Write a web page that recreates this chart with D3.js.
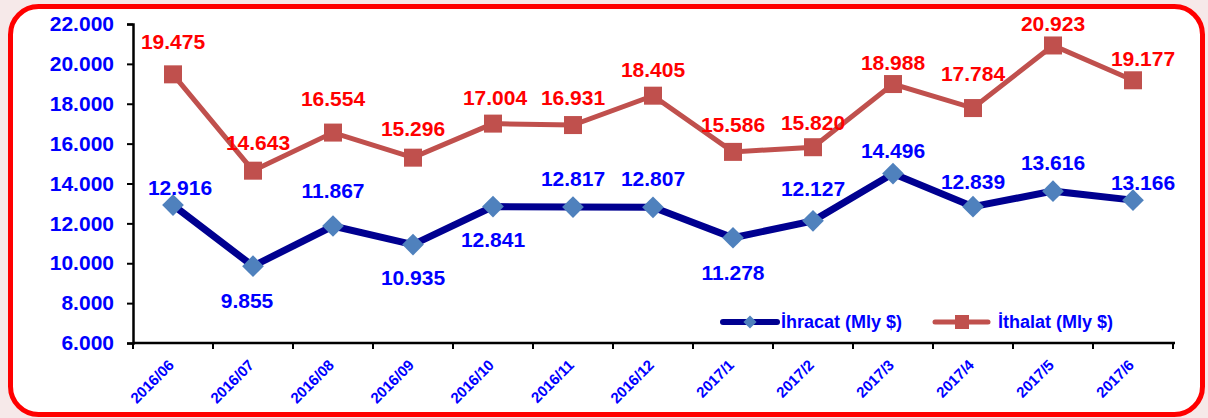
<!DOCTYPE html>
<html>
<head>
<meta charset="utf-8">
<script src="https://cdn.jsdelivr.net/npm/d3@7"></script>
<style>
  body { margin: 0; background: #f6e9e9; }
  svg { display: block; font-family: "Liberation Sans", Arial, sans-serif; }
</style>
</head>
<body>
<svg id="chart" width="1208" height="418"></svg>
<script>
// data
var months = ["2016/06","2016/07","2016/08","2016/09","2016/10","2016/11","2016/12",
              "2017/1","2017/2","2017/3","2017/4","2017/5","2017/6"];
var ihracat = [12916, 9855, 11867, 10935, 12841, 12817, 12807, 11278, 12127, 14496, 12839, 13616, 13166];
var ithalat = [19475, 14643, 16554, 15296, 17004, 16931, 18405, 15586, 15820, 18988, 17784, 20923, 19177];
var yTicks = [6000, 8000, 10000, 12000, 14000, 16000, 18000, 20000, 22000];

// label nudges (dx, dy from the marker)
var ihrOffset = [[7,-18],[-6,34],[0,-36],[0,33],[0,33],[0,-29],[0,-29],[0,35],[0,-32],[0,-23],[0,-25],[0,-29],[10,-18]];
var ithOffset = [[0,-33],[5,-28],[0,-34],[0,-29],[2,-26],[0,-28],[0,-26],[0,-27],[0,-25],[0,-22],[0,-35],[0,-22],[10,-22]];

var svg = d3.select("#chart");

// frame
svg.append("rect")
    .attr("x", 10.5).attr("y", 6.5)
    .attr("width", 1192).attr("height", 408)
    .attr("rx", 28).attr("ry", 28)
    .style("fill", "white")
    .style("stroke", "#ff0000")
    .style("stroke-width", 5);

var x = d3.scaleBand()
    .domain(months)
    .range([133, 1173]);

var y = d3.scaleLinear()
    .domain([6000, 22000])
    .range([343, 24]);

var fmt = function(d) { return d3.format(",.0f")(d).replace(",", "."); };
var fmt3 = function(d) { return d3.format(".3f")(d / 1000); };

// y axis
var yAxis = d3.axisLeft(y)
    .tickValues(yTicks)
    .tickSize(6)
    .tickFormat(fmt3);

var gy = svg.append("g")
    .attr("transform", "translate(133,0)")
    .call(yAxis);
gy.select(".domain").style("stroke", "black").style("stroke-width", 2.5);
gy.selectAll(".tick line").style("stroke", "black").style("stroke-width", 2);
gy.selectAll(".tick text")
    .attr("x", -19)
    .style("fill", "#0000ff")
    .style("font-size", "21px")
    .style("font-weight", "bold")
    .style("font-family", "Liberation Sans, Arial, sans-serif");

// x axis, ticks at band boundaries
var gx = svg.append("g")
    .attr("transform", "translate(0,343)");
gx.append("line")
    .attr("x1", 133).attr("x2", 1175)
    .style("stroke", "black").style("stroke-width", 2.5);
gx.selectAll(".xt")
    .data(months.concat(["end"]))
    .enter()
    .append("line")
    .attr("class", "xt")
    .attr("x1", function(d, i) { return 133 + i * x.bandwidth(); })
    .attr("x2", function(d, i) { return 133 + i * x.bandwidth(); })
    .attr("y1", 0).attr("y2", 6)
    .style("stroke", "black").style("stroke-width", 2);
gx.selectAll(".xl")
    .data(months)
    .enter()
    .append("text")
    .attr("class", "xl")
    .attr("text-anchor", "end")
    .attr("transform", function(d) {
        return "translate(" + (x(d) + x.bandwidth() / 2 + 2) + ",23) rotate(-45)";
    })
    .style("fill", "#0000ff")
    .style("font-size", "15px")
    .style("font-weight", "bold")
    .text(function(d) { return d; });

var cx = function(d, i) { return x(months[i]) + x.bandwidth() / 2; };

var line = d3.line()
    .x(function(d, i) { return cx(d, i); })
    .y(function(d) { return y(d); });

// ithalat
svg.append("path")
    .datum(ithalat)
    .attr("d", line)
    .style("fill", "none")
    .style("stroke", "#c0504d")
    .style("stroke-width", 5);
svg.selectAll(".sq")
    .data(ithalat)
    .enter()
    .append("rect")
    .attr("class", "sq")
    .attr("x", function(d, i) { return cx(d, i) - 9; })
    .attr("y", function(d) { return y(d) - 9; })
    .attr("width", 18).attr("height", 18)
    .style("fill", "#c0504d");

// ihracat
svg.append("path")
    .datum(ihracat)
    .attr("d", line)
    .style("fill", "none")
    .style("stroke", "#000090")
    .style("stroke-width", 7);
svg.selectAll(".dm")
    .data(ihracat)
    .enter()
    .append("path")
    .attr("class", "dm")
    .attr("d", d3.symbol().type(d3.symbolDiamond2).size(300))
    .attr("transform", function(d, i) { return "translate(" + cx(d, i) + "," + y(d) + ")"; })
    .style("fill", "#4f81bd");

// value labels
svg.selectAll(".lit")
    .data(ithalat)
    .enter()
    .append("text")
    .attr("class", "lit")
    .attr("text-anchor", "middle")
    .attr("dominant-baseline", "central")
    .attr("x", function(d, i) { return cx(d, i) + ithOffset[i][0]; })
    .attr("y", function(d, i) { return y(d) + ithOffset[i][1]; })
    .style("fill", "#ff0000")
    .style("font-size", "21px")
    .style("font-weight", "bold")
    .text(fmt);

svg.selectAll(".lih")
    .data(ihracat)
    .enter()
    .append("text")
    .attr("class", "lih")
    .attr("text-anchor", "middle")
    .attr("dominant-baseline", "central")
    .attr("x", function(d, i) { return cx(d, i) + ihrOffset[i][0]; })
    .attr("y", function(d, i) { return y(d) + ihrOffset[i][1]; })
    .style("fill", "#0000ff")
    .style("font-size", "21px")
    .style("font-weight", "bold")
    .text(fmt);

// legend
var leg = svg.append("g").attr("transform", "translate(0,322)");
leg.append("line")
    .attr("x1", 723).attr("x2", 777)
    .style("stroke", "#000090").style("stroke-width", 6).style("stroke-linecap", "round");
leg.append("path")
    .attr("d", d3.symbol().type(d3.symbolDiamond2).size(110))
    .attr("transform", "translate(750,0)")
    .style("fill", "#4f81bd");
leg.append("text")
    .attr("x", 781).attr("dominant-baseline", "central")
    .style("fill", "#0000ff").style("font-size", "18px").style("font-weight", "bold")
    .text("İhracat (Mly $)");
leg.append("line")
    .attr("x1", 935).attr("x2", 988)
    .style("stroke", "#c0504d").style("stroke-width", 5).style("stroke-linecap", "round");
leg.append("rect")
    .attr("x", 955).attr("y", -7).attr("width", 14).attr("height", 14)
    .style("fill", "#c0504d");
leg.append("text")
    .attr("x", 998).attr("dominant-baseline", "central")
    .style("fill", "#0000ff").style("font-size", "18px").style("font-weight", "bold")
    .text("İthalat (Mly $)");
</script>
</body>
</html>
